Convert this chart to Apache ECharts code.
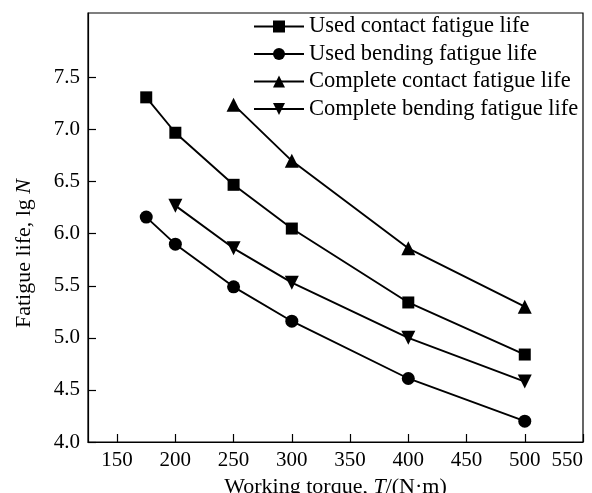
<!DOCTYPE html>
<html>
<head>
<meta charset="utf-8">
<script src="https://cdn.jsdelivr.net/npm/echarts@6/dist/echarts.min.js"></script>
<style>
  html, body { margin: 0; padding: 0; background: #fff; }
  #chart { width: 592px; height: 493px; }
</style>
</head>
<body>
<div id="chart"></div>
<script>
// Working torque (N·m) and fatigue life (lg N) for each curve
const usedContactTorque = [175, 200, 250, 300, 400, 500];
const usedContactLife = [7.31, 6.97, 6.47, 6.05, 5.34, 4.84];

const usedBendingTorque = [175, 200, 250, 300, 400, 500];
const usedBendingLife = [6.16, 5.90, 5.49, 5.16, 4.61, 4.20];

const completeContactTorque = [250, 300, 400, 500];
const completeContactLife = [7.24, 6.70, 5.86, 5.30];

const completeBendingTorque = [200, 250, 300, 400, 500];
const completeBendingLife = [6.27, 5.86, 5.53, 5.00, 4.58];

const seriesNames = [
  'Used contact fatigue life',
  'Used bending fatigue life',
  'Complete contact fatigue life',
  'Complete bending fatigue life'
];

const xTicks = [150, 200, 250, 300, 350, 400, 450, 500, 550];
const yTicks = [4.0, 4.5, 5.0, 5.5, 6.0, 6.5, 7.0, 7.5];

const FONT = '"Liberation Serif", "Times New Roman", serif';

function pairs(xs, ys) {
  return xs.map((x, i) => [x, ys[i]]);
}

function lineSeries(name, xs, ys, symbol, size, rotate) {
  return {
    name: name,
    type: 'line',
    data: pairs(xs, ys),
    symbol: symbol,
    symbolSize: size,
    symbolRotate: rotate || 0,
    showAllSymbol: true,
    itemStyle: { color: '#000' },
    lineStyle: { color: '#000', width: 1.9 },
    emphasis: { disabled: true },
    z: 3
  };
}

const chart = echarts.init(document.getElementById('chart'), null, { renderer: 'canvas' });

chart.setOption({
  animation: false,
  backgroundColor: '#fff',
  textStyle: { fontFamily: FONT, color: '#000' },
  grid: {
    left: 88, right: 9, top: 13, bottom: 51,
    show: true, borderColor: '#000', borderWidth: 1.2,
    containLabel: false,
    outerBoundsMode: 'none'
  },
  legend: {
    orient: 'vertical',
    left: 253, top: 15,
    padding: 0,
    itemWidth: 50, itemHeight: 15,
    itemGap: 4.5,
    selectedMode: false,
    textStyle: { fontFamily: FONT, fontSize: 22.5, color: '#000' },
    data: seriesNames
  },
  xAxis: {
    type: 'value',
    min: 125, max: 550,
    name: '{n|Working torque, }{i|T}{n|/(N·m)}',
    nameLocation: 'middle',
    nameGap: 25,
    nameTextStyle: {
      rich: {
        n: { fontFamily: FONT, fontSize: 22, color: '#000' },
        i: { fontFamily: FONT, fontSize: 22, color: '#000', fontStyle: 'italic' }
      }
    },
    axisLine: { show: true, lineStyle: { color: '#000', width: 1.2 } },
    axisTick: { show: true, inside: true, length: 8, lineStyle: { color: '#000', width: 1.2 }, customValues: xTicks },
    axisLabel: {
      fontFamily: FONT, fontSize: 21, color: '#000', margin: 8,
      customValues: xTicks,
      alignMaxLabel: 'right'
    },
    splitLine: { show: false }
  },
  yAxis: {
    type: 'value',
    min: 4.0, max: 8.12,
    name: '{n|Fatigue life, lg }{i|N}',
    nameLocation: 'middle',
    nameGap: 53,
    nameRotate: 90,
    nameTextStyle: {
      padding: [0, 52, 0, 0],
      rich: {
        n: { fontFamily: FONT, fontSize: 22, color: '#000' },
        i: { fontFamily: FONT, fontSize: 22, color: '#000', fontStyle: 'italic' }
      }
    },
    axisLine: { show: true, lineStyle: { color: '#000', width: 1.2 } },
    axisTick: { show: true, inside: true, length: 8, lineStyle: { color: '#000', width: 1.2 }, customValues: yTicks },
    axisLabel: {
      fontFamily: FONT, fontSize: 21, color: '#000', margin: 8,
      customValues: yTicks,
      formatter: v => v.toFixed(1)
    },
    splitLine: { show: false }
  },
  series: [
    lineSeries(seriesNames[0], usedContactTorque, usedContactLife, 'rect', 12),
    lineSeries(seriesNames[1], usedBendingTorque, usedBendingLife, 'circle', 13),
    lineSeries(seriesNames[2], completeContactTorque, completeContactLife, 'triangle', 14),
    lineSeries(seriesNames[3], completeBendingTorque, completeBendingLife, 'triangle', 14, 180)
  ]
});
</script>
</body>
</html>
